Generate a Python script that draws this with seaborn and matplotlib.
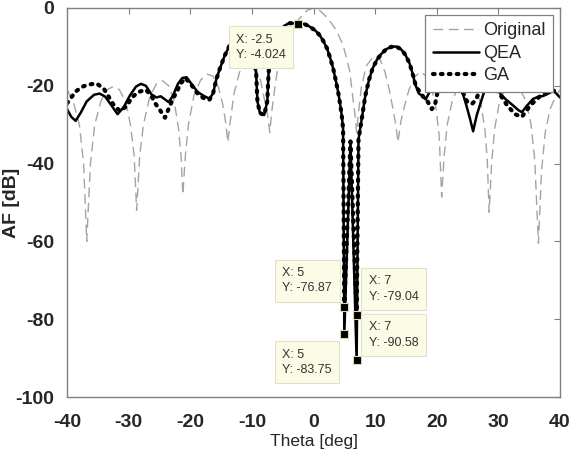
import numpy as np
import matplotlib
matplotlib.use("Agg")
import matplotlib.pyplot as plt
import seaborn as sns

# array factor curves (theta in deg, AF in dB)
theta_orig = [-40, -39, -38, -37.3, -36.8, -36.2, -35.5, -34.5, -33.5, -32.5,
              -31.5, -30.5, -29.7, -29.1, -28.7, -28.2, -27.6, -26.6, -25.5, -24.5,
              -23.5, -22.6, -21.9, -21.5, -21.2, -20.8, -20.3, -19.4, -18.3, -17.3,
              -16.3, -15.4, -14.7, -14.2, -13.9, -13.5, -12.9, -12.0, -10.8, -9.6,
              -8.6, -7.9, -7.4, -7.1, -6.8, -6.4, -5.9, -5.3, -4.8, -3.8,
              -2.9, -1.8, -0.9, 0, 0.9, 1.8, 2.9, 3.8, 4.8, 5.3,
              5.9, 6.4, 6.7, 7.0, 7.3, 7.8, 8.6, 9.8, 10.8, 11.6,
              12.3, 12.9, 13.4, 13.7, 14.2, 14.8, 15.5, 16.4, 17.3, 18.3,
              19.2, 19.9, 20.4, 20.8, 21.2, 21.7, 22.5, 23.4, 24.5, 25.5,
              26.4, 27.2, 27.8, 28.2, 28.5, 28.9, 29.4, 30.2, 31.2, 32.3,
              33.4, 34.5, 35.3, 35.9, 36.5, 37.0, 37.6, 38.4, 39.2, 40]
af_orig = [-21, -24, -30, -40, -60, -40, -30, -24, -21, -20.2,
           -21, -24, -30, -38, -52, -38, -30, -23, -19.5, -18.7,
           -20, -24, -31, -38, -48, -38, -30, -22.5, -18.5, -17,
           -17.5, -20.5, -25, -30, -34.5, -29, -22, -16.5, -13.5, -14.5,
           -18.5, -24, -28, -32, -27, -22, -16.4, -12, -9.6, -6,
           -3.9, -1.8, -0.5, 0, -0.5, -1.8, -3.9, -6, -9.6, -12.5,
           -16.4, -23.4, -27, -32, -27, -20, -14.8, -12.3, -13.2, -16.5,
           -21, -26, -30.5, -34.5, -29, -25, -21, -17.8, -16.4, -17.5,
           -21, -26, -33, -48.6, -38, -30, -24, -20.5, -18.5, -18.5,
           -20.5, -25, -31, -39, -52.5, -40, -31, -24, -20.5, -19.5,
           -20.5, -24, -30, -39, -60.5, -42, -32, -26, -23, -21]

theta_qea = [-40, -39.3, -38.6, -37.8, -36.8, -35.6, -34.7, -33.8, -32.8, -31.8,
             -30.8, -29.8, -28.8, -28.0, -27.2, -26.3, -25.5, -24.8, -24.1, -23.5,
             -22.8, -22.0, -21.3, -20.6, -19.8, -18.8, -17.8, -16.9, -16.3, -15.8,
             -15.2, -14.4, -13.6, -12.5, -11.3, -10.3, -9.7, -9.3, -9.1, -8.7,
             -8.0, -7.5, -7.3, -7.0, -6.0, -5.0, -4.3, -3.0, -2.5, -1.5,
             -0.6, 0.3, 1.0, 1.6, 2.2, 2.7, 3.2, 3.6, 4.0, 4.3,
             4.6, 4.8, 5.0, 6.0, 7.0, 7.3, 7.9, 8.4, 9.0, 9.6,
             10.3, 11.0, 11.8, 12.6, 13.4, 14.2, 14.9, 15.6, 16.1, 16.6,
             17.1, 17.7, 18.2, 18.7, 19.3, 20.5, 21.8, 23.0, 24.1, 24.8,
             25.4, 25.9, 26.5, 27.2, 27.8, 28.8, 29.6, 30.3, 31.2, 32.2,
             33.2, 33.8, 34.6, 35.6, 36.5, 37.3, 38.1, 38.9, 39.4, 40]
af_qea = [-26, -28, -29, -27, -24, -22.3, -22, -22.8, -25, -27.3,
          -25.5, -22.5, -20.2, -19.5, -20, -22.2, -23, -22.7, -23.5, -24.2,
          -22.5, -19.5, -18, -17.8, -19.5, -21.6, -22.6, -23.3, -22, -18.5,
          -15.6, -12.2, -9.6, -7.5, -7, -9, -13, -17, -24, -27,
          -27.5, -24, -17, -12, -8, -5.5, -4.1, -3.9, -4.024, -4.1,
          -4.8, -5.8, -7, -8.5, -10.4, -12.8, -15.6, -18.5, -21.6, -24.5,
          -27.8, -31, -83.75, -34.3, -90.58, -33.8, -27.8, -22.6, -18.5, -15.5,
          -13.3, -11.8, -10.6, -10, -9.9, -10.6, -12, -14.3, -17, -20,
          -22, -22.6, -23.5, -22, -19.5, -17.5, -17.2, -19, -21.3, -25,
          -28.5, -31.7, -27.5, -24, -21, -19, -20.2, -22, -23.5, -24.8,
          -26.2, -26.8, -25.2, -23.4, -22.8, -22.6, -22, -21.3, -22, -23]

theta_ga = [-40, -39.3, -38.7, -37.6, -36.6, -35.2, -34.0, -33.2, -32.4, -31.4,
            -30.3, -29.5, -28.4, -27.2, -26.3, -25.6, -24.8, -24.1, -23.4, -22.7,
            -22.2, -21.6, -20.8, -19.8, -18.8, -17.8, -16.9, -16.3, -15.8, -15.2,
            -14.4, -13.6, -12.5, -11.3, -10.3, -9.7, -9.3, -9.1, -8.7, -8.0,
            -7.5, -7.3, -7.0, -6.0, -5.0, -4.3, -3.0, -2.5, -1.5, -0.6,
            0.3, 1.0, 1.6, 2.2, 2.7, 3.2, 3.6, 4.0, 4.3, 4.6,
            4.8, 5.0, 6.0, 7.0, 7.3, 7.9, 8.4, 9.0, 9.6, 10.3,
            11.0, 11.8, 12.6, 13.4, 14.2, 14.9, 15.6, 16.1, 16.6, 17.2,
            17.9, 18.5, 19.2, 19.7, 20.2, 21.2, 22.5, 23.5, 24.2, 24.9,
            25.7, 26.4, 27.0, 28.0, 29.0, 29.8, 30.6, 31.4, 32.7, 33.8,
            34.5, 35.2, 36.0, 36.8, 37.8, 38.8, 40]
af_ga = [-24.5, -23, -21.6, -20.3, -19.7, -19.4, -20.8, -22.9, -25, -26.5,
         -25.2, -23, -21.6, -21, -22.6, -24.7, -26.5, -28.2, -25.5, -23,
         -21.6, -19.5, -18, -19.8, -22, -23.2, -23.6, -22, -18.5, -15.6,
         -12.2, -9.6, -7.5, -7, -9, -13, -17, -24, -27, -27.5,
         -24, -17, -12, -8, -5.5, -3.9, -3.9, -4.024, -4.1, -4.8,
         -5.8, -7, -8.5, -10.4, -12.8, -15.6, -18.5, -21.6, -24.5, -27.8,
         -31, -76.87, -34.3, -79.04, -33.8, -27.8, -22.6, -18.5, -15.5, -13.3,
         -11.8, -10.6, -10, -9.9, -10.6, -12, -14.3, -17, -20, -21.5,
         -23, -24, -26, -25, -21, -18, -17.5, -19, -21.5, -24,
         -24.7, -23.5, -21, -19, -19.5, -21.3, -23, -25, -27.3, -28,
         -26.5, -25, -23.8, -22.6, -21.8, -21.3, -21]

# data tips shown on the figure
tip_x = [-2.5, 5, 7, 7, 5]
tip_y = [-4.024, -76.87, -79.04, -90.58, -83.75]
# pixel offsets of the tip text (layout only)
tip_dx = [-62, -62, 12, 12, -62]
tip_dy = [-10, 40, 40, 39, -15]

sns.set_style("white")
plt.rcParams['font.family'] = ['Liberation Sans', 'DejaVu Sans']
plt.rcParams['axes.unicode_minus'] = False

fig = plt.figure(figsize=(5.78, 4.54), dpi=100)
ax = fig.add_axes([67 / 578, 1 - 397 / 454, (560 - 67) / 578, (397 - 8) / 454])

sns.lineplot(x=theta_orig, y=af_orig, ax=ax, color='#a4a4a4', lw=1.0,
             linestyle=(0, (7, 4)), label='Original')
sns.lineplot(x=theta_qea, y=af_qea, ax=ax, color='black', lw=1.8,
             label='QEA')
sns.lineplot(x=theta_ga, y=af_ga, ax=ax, color='black', lw=3.0,
             linestyle=(0, (0.4, 1.5)), dash_capstyle='round', label='GA')

ax.set_xlim(-40, 40)
ax.set_ylim(-100, 0)
ax.set_xticks(np.arange(-40, 41, 10))
ax.set_yticks(np.arange(-100, 1, 20))
ax.tick_params(direction='in', length=4, width=0.8, color='#808080',
               top=True, right=True, labelsize=14)
ax.tick_params(axis='x', pad=12)
ax.tick_params(axis='y', pad=9)
for lab in ax.get_xticklabels() + ax.get_yticklabels():
    lab.set_fontweight('bold')
for sp in ax.spines.values():
    sp.set_color('#808080')
    sp.set_linewidth(1.0)

ax.set_xlabel('Theta [deg]', fontsize=12.5)
ax.xaxis.set_label_coords(0.5, -0.094)
ax.set_ylabel('AF [dB]', fontsize=14, fontweight='bold')
ax.yaxis.set_label_coords(-0.095, 0.5)

leg = ax.legend(loc='upper right', fontsize=13, handlelength=2.6,
                labelspacing=0.3, borderpad=0.4, handletextpad=0.2,
                borderaxespad=0.4, fancybox=False, framealpha=1)
leg.get_frame().set_edgecolor('#808080')
leg.get_frame().set_linewidth(0.9)

# data tip markers and boxes
ax.plot(tip_x, tip_y, linestyle='none', marker='s', markersize=5.5,
        mfc='black', mec='#d8d8a8', mew=0.8, zorder=6)
for x, y, dx, dy in zip(tip_x, tip_y, tip_dx, tip_dy):
    txt = f"X: {x:g}\nY: {y:g}"
    ax.annotate(txt, xy=(x, y), xytext=(dx, dy), textcoords='offset pixels',
                ha='left', va='top', fontsize=9, color='#333333',
                linespacing=1.35, zorder=7,
                bbox=dict(boxstyle='square,pad=0.6', fc='#fbfbe6',
                          ec='#e0e0cc', lw=0.8))

fig.savefig('out.png', dpi=100)
